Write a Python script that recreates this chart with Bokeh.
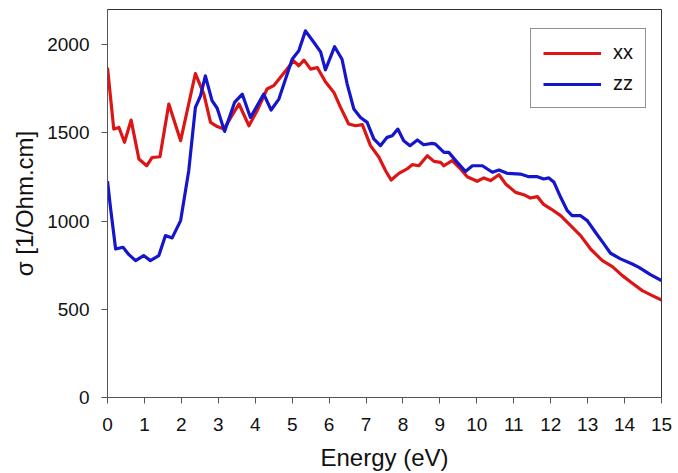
from bokeh.plotting import figure
from bokeh.models import Range1d, FixedTicker, Legend, LegendItem
from bokeh.embed import file_html
from bokeh.resources import INLINE

energy_xx = [0.0, 0.17, 0.31, 0.46, 0.64, 0.85, 1.06, 1.21, 1.42, 1.66, 1.98, 2.38, 2.61, 2.79,
             2.97, 3.15, 3.56, 3.83, 4.05, 4.32, 4.50, 5.04, 5.18, 5.32, 5.50, 5.68, 5.90,
             6.13, 6.31, 6.53, 6.72, 6.90, 7.12, 7.35, 7.53, 7.68, 7.89, 8.11, 8.25, 8.43,
             8.66, 8.84, 9.02, 9.11, 9.33, 9.56, 9.74, 10.01, 10.19, 10.37, 10.60, 10.78,
             11.05, 11.27, 11.45, 11.64, 11.81, 12.00, 12.27, 12.54, 12.81, 13.08, 13.40,
             13.67, 13.94, 14.21, 14.48, 14.75, 15.0]
sigma_xx = [1870, 1522, 1531, 1447, 1573, 1352, 1314, 1361, 1365, 1664, 1456, 1837, 1720, 1560,
            1536, 1522, 1664, 1541, 1626, 1749, 1768, 1909, 1881, 1913, 1862, 1871, 1790,
            1730, 1645, 1551, 1541, 1547, 1428, 1362, 1286, 1233, 1271, 1296, 1320, 1314,
            1371, 1339, 1333, 1314, 1343, 1296, 1252, 1226, 1245, 1230, 1263, 1211,
            1163, 1150, 1131, 1139, 1095, 1070, 1031, 975, 918, 842, 776,
            742, 691, 648, 606, 578, 553]

energy_zz = [0.0, 0.08, 0.22, 0.42, 0.58, 0.76, 0.98, 1.16, 1.39, 1.57, 1.75, 1.98, 2.20, 2.38,
             2.52, 2.65, 2.83, 2.97, 3.17, 3.44, 3.65, 3.87, 4.23, 4.43, 4.64, 5.00, 5.18,
             5.36, 5.59, 5.77, 5.90, 6.15, 6.35, 6.49, 6.67, 6.85, 7.03, 7.21, 7.39, 7.57,
             7.71, 7.86, 8.02, 8.19, 8.39, 8.56, 8.79, 8.88, 9.11, 9.24, 9.47, 9.69, 9.88,
             10.15, 10.42, 10.60, 10.82, 11.18, 11.41, 11.64, 11.81, 11.95, 12.09, 12.27,
             12.45, 12.58, 12.81, 12.99, 13.21, 13.44, 13.62, 13.89, 14.21, 14.39, 14.70, 15.0]
sigma_zz = [1226, 1078, 842, 852, 810, 776, 805, 776, 805, 918, 905, 1003, 1286, 1645,
            1711, 1824, 1683, 1640, 1509, 1673, 1720, 1588, 1720, 1630, 1692, 1918, 1966,
            2079, 2013, 1960, 1858, 1989, 1918, 1777, 1636, 1588, 1560, 1466, 1428, 1475,
            1484, 1522, 1456, 1428, 1460, 1433, 1441, 1437, 1390, 1390, 1333, 1282, 1314,
            1314, 1277, 1290, 1271, 1267, 1252, 1252, 1239, 1245, 1220, 1135,
            1059, 1031, 1031, 1003, 937, 871, 818, 786, 757, 738, 697, 663]

x_ticks = list(range(0, 16))
y_ticks = [0, 500, 1000, 1500, 2000]
series_labels = ["xx", "zz"]

FONT = "Liberation Sans"

p = figure(width=678, height=473, output_backend="svg", toolbar_location=None,
           x_range=Range1d(0, 15), y_range=Range1d(0, 2200),
           min_border_left=107, min_border_right=17, min_border_top=9, min_border_bottom=76)
p.background_fill_color = "white"
p.border_fill_color = "white"
p.outline_line_color = "#333333"
p.outline_line_width = 1
p.xgrid.visible = False
p.ygrid.visible = False

r1 = p.line(energy_xx, sigma_xx, line_color="#dd1515", line_width=3.2, line_join="round")
r2 = p.line(energy_zz, sigma_zz, line_color="#1515cc", line_width=3.2, line_join="round")

for ax in (p.xaxis[0], p.yaxis[0]):
    ax.axis_line_color = "#555555"
    ax.major_tick_line_color = "#555555"
    ax.major_tick_out = 6
    ax.major_tick_in = 0
    ax.minor_tick_line_color = None
    ax.major_label_text_font = FONT
    ax.major_label_text_font_size = "19px"
    ax.major_label_text_color = "#111111"
    ax.axis_label_text_font = FONT
    ax.axis_label_text_font_size = "24px"
    ax.axis_label_text_font_style = "normal"
    ax.axis_label_text_color = "#111111"

p.xaxis[0].ticker = FixedTicker(ticks=x_ticks)
p.yaxis[0].ticker = FixedTicker(ticks=y_ticks)
p.xaxis[0].axis_label = "Energy (eV)"
p.yaxis[0].axis_label = "σ [1/Ohm.cm]"
p.xaxis[0].major_label_standoff = 14
p.yaxis[0].major_label_standoff = 12
p.xaxis[0].axis_label_standoff = 10
p.yaxis[0].axis_label_standoff = 6

legend = Legend(items=[LegendItem(label=series_labels[0], renderers=[r1]),
                       LegendItem(label=series_labels[1], renderers=[r2])],
                location=(423, 289))
legend.border_line_color = "#222222"
legend.border_line_width = 1
legend.background_fill_color = "white"
legend.label_text_font = FONT
legend.label_text_font_size = "20px"
legend.label_text_color = "#111111"
legend.glyph_width = 58
legend.glyph_height = 20
legend.label_height = 20
legend.label_standoff = 12
legend.spacing = 8
legend.padding = 12
legend.margin = 0
p.add_layout(legend)

open("out.html", "w").write(file_html(p, INLINE))
